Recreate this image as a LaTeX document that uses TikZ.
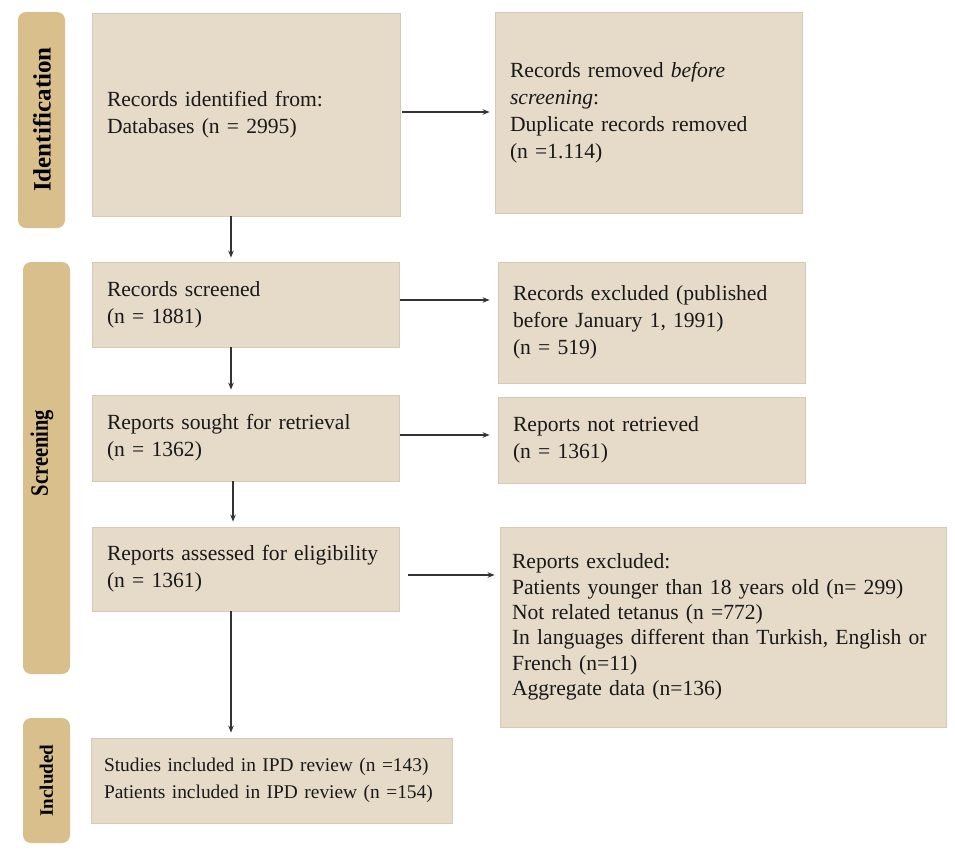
\documentclass[tikz,border=0pt]{standalone}
\usepackage{fontspec}
\setmainfont{Liberation Serif}
\usetikzlibrary{arrows.meta}
\definecolor{boxfill}{HTML}{E5DBC8}
\definecolor{boxline}{HTML}{D5CAB4}
\definecolor{sidefill}{HTML}{D9BF8B}
\definecolor{arrowcol}{HTML}{333333}
\begin{document}
\begin{tikzpicture}[x=1pt,y=-1pt,
  flowbox/.style={draw=boxline,line width=0.8pt,fill=boxfill,inner xsep=15pt,inner ysep=0pt,
     align=left,font=\fontsize{21.6}{27}\selectfont,text=black!90},
  sidebox/.style={fill=sidefill,rounded corners=8pt,inner sep=0pt,minimum width=47pt},
  sidetext/.style={rotate=90,font=\bfseries,inner sep=0pt,text=black},
  arr/.style={draw=arrowcol,line width=1.3pt,-{Stealth[length=7pt,width=5.5pt]}}]
\fill[white] (0,0) rectangle (955,852);
\useasboundingbox (0,0) rectangle (955,852);

% side labels
\node[sidebox,minimum height=216pt] (sid) at (41.5,120) {};
\node[sidetext,font=\bfseries\fontsize{25}{28}\selectfont] (sidt) at (42,119.5) {Identification};
\node[sidebox,minimum height=412pt] (sscr) at (46.5,468) {};
\node[sidetext,font=\bfseries\fontsize{25}{28}\selectfont] (sscrt) at (42,453) {\scalebox{0.82}[1]{Screening}};
\node[sidebox,minimum height=125pt] (sinc) at (46.5,780.5) {};
\node[sidetext,font=\bfseries\fontsize{19}{22}\selectfont] (sinct) at (46.5,780.5) {Included};

% boxes
\node[flowbox,minimum width=308pt,minimum height=203pt,text width=278pt] (ident) at (246,114.5)
  {Records identified from:\\Databases (n = 2995)};
\node[flowbox,minimum width=307pt,minimum height=201pt,text width=277pt] (removed) at (648.5,112.5)
  {Records removed \textit{before}\\\textit{screening}:\\Duplicate records removed\\(n =1.114)};
\node[flowbox,minimum width=307pt,minimum height=85pt,text width=277pt] (screened) at (245.5,304.5)
  {Records screened\\(n = 1881)};
\node[flowbox,minimum width=307pt,minimum height=121pt,text width=277pt] (recexcl) at (651.5,322.5)
  {Records excluded (published\\before January 1, 1991)\\(n = 519)};
\node[flowbox,minimum width=307pt,minimum height=86pt,text width=277pt] (sought) at (245.5,438)
  {Reports sought for retrieval\\(n = 1362)};
\node[flowbox,minimum width=307pt,minimum height=86pt,text width=277pt] (notret) at (651.5,440)
  {Reports not retrieved\\(n = 1361)};
\node[flowbox,minimum width=307pt,minimum height=84pt,text width=277pt] (assessed) at (245.5,569)
  {Reports assessed for eligibility\\(n = 1361)};
\node[flowbox,minimum width=446pt,minimum height=200pt,text width=422pt,inner xsep=12pt,
  font=\fontsize{21.6}{25.4}\selectfont] (repexcl) at (723,627)
  {Reports excluded:\\Patients younger than 18 years old (n= 299)\\Not related tetanus (n =772)\\\mbox{In languages different than Turkish, English or}\\French (n=11)\\Aggregate data (n=136)};
\node[flowbox,minimum width=361pt,minimum height=85pt,text width=335pt,inner xsep=13pt,
  font=\fontsize{19.4}{26.5}\selectfont] (included) at (271.5,780.5)
  {\mbox{Studies included in IPD review (n =143)}\\\mbox{Patients included in IPD review (n =154)}};

% helper coordinates
\coordinate (x231) at (231,0);
\coordinate (x233) at (233,0);
\coordinate (y112) at (0,112);
\coordinate (y300) at (0,300);
\coordinate (y435) at (0,435);
\coordinate (y575) at (0,575);

% vertical arrows
\draw[arr,shorten >=4pt] (ident.south -| x231) -- (screened.north -| x231);
\draw[arr,shorten >=5pt] (screened.south -| x231) -- (sought.north -| x231);
\draw[arr,shorten >=5pt] (sought.south -| x233) -- (assessed.north -| x233);
\draw[arr,shorten >=5pt] (assessed.south -| x231) -- (included.north -| x231);

% horizontal arrows
\draw[arr,shorten <=2pt,shorten >=5pt] (ident.east |- y112) -- (removed.west |- y112);
\draw[arr,shorten <=1pt,shorten >=8pt] (screened.east |- y300) -- (recexcl.west |- y300);
\draw[arr,shorten <=1pt,shorten >=8pt] (sought.east |- y435) -- (notret.west |- y435);
\draw[arr,shorten <=9pt,shorten >=5pt] (assessed.east |- y575) -- (repexcl.west |- y575);
\end{tikzpicture}
\end{document}
